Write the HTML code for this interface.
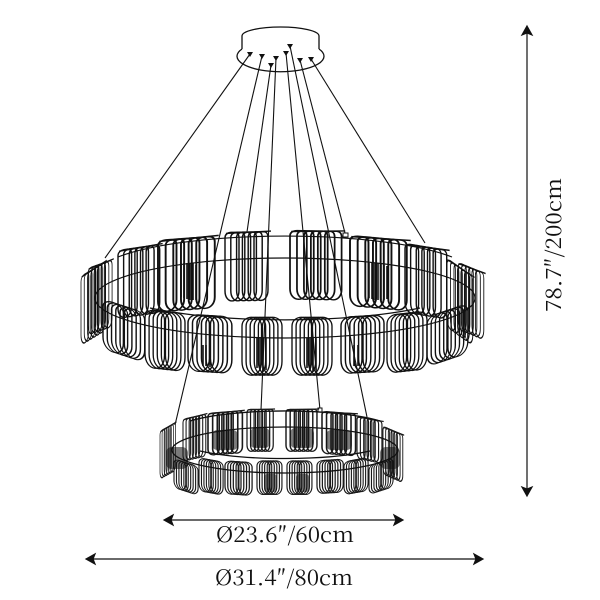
<!DOCTYPE html>
<html><head><meta charset="utf-8"><style>
html,body{margin:0;padding:0;background:#fff;width:600px;height:600px;overflow:hidden}
svg{display:block}
.w{stroke:#111;stroke-width:1.1;fill:none}
.l path{vector-effect:non-scaling-stroke}
text{font-family:"Noto Serif CJK SC","Liberation Serif",serif;font-size:21px;fill:#111}
</style></head><body>
<svg width="600" height="600" viewBox="0 0 600 600" xmlns="http://www.w3.org/2000/svg">
<defs>
<g id="u"><path d="M0,6Q0,1 6,0.5H10Q14,1 14,6V60C14,74 0,74 0,60Z"/></g>
<g id="b">
<use href="#u"/><use href="#u" x="5.8"/><use href="#u" x="11.6"/><use href="#u" x="17.4"/><use href="#u" x="23.2"/><use href="#u" x="29"/>
<path d="M1,1.5L46,0"/>
</g>
<g id="f">
<path d="M0,12C0,-2 21,-2 21,12V54C21,76 0,76 0,54Z"/>
<path d="M4.4,12C4.4,-2 25.4,-2 25.4,12V54C25.4,76 4.4,76 4.4,54Z"/>
<path d="M8.8,12C8.8,-2 29.8,-2 29.8,12V54C29.8,76 8.8,76 8.8,54Z"/>
<path d="M13.2,12C13.2,-2 34.2,-2 34.2,12V54C34.2,76 13.2,76 13.2,54Z"/>
<path d="M17.6,12C17.6,-2 38.6,-2 38.6,12V54C38.6,76 17.6,76 17.6,54Z"/>
<path d="M22,12C22,-2 43,-2 43,12V54C43,76 22,76 22,54Z"/>
</g>
</defs>

<!-- canopy -->
<path d="M242,36A38.5,9 0 0 1 319,36V49" fill="#fff" stroke="#111" stroke-width="1.3"/>
<path d="M242,36V49" stroke="#111" stroke-width="1.3"/>
<path d="M242,49A43.5,15.5 0 1 0 319,49" fill="none" stroke="#111" stroke-width="1.3"/>

<!-- wires -->
<g class="w">
<path d="M250,54L105,258"/><path d="M262,56L175,425"/><path d="M271,65L247,232"/><path d="M276,58L261,410"/>
<path d="M286,53L320,410"/><path d="M290,46L367,417"/><path d="M300,60L345,233"/><path d="M311,59L425,243"/>
</g>
<g fill="#111">
<path d="M247,52h6l-3,5z"/><path d="M259,54h6l-3,5z"/><path d="M273,56h6l-3,5z"/><path d="M268,63h6l-3,5z"/>
<path d="M283,51h6l-3,5z"/><path d="M287,44h6l-3,5z"/><path d="M297,58h6l-3,5z"/><path d="M308,57h6l-3,5z"/>
</g>
<rect x="343" y="233" width="5" height="4" fill="#fff" stroke="#111"/>
<rect x="318" y="408" width="4" height="4" fill="#fff" stroke="#111"/>

<!-- large ring back -->
<g class="l" fill="none" stroke="#111" stroke-width="1.45">
<use href="#b" transform="matrix(.56,-.34,0,.98,81,276)"/>
<use href="#b" transform="matrix(.56,-.2,0,.95,88,268)"/>
<use href="#b" transform="matrix(.97,-.14,0,.97,118,250)"/>
<use href="#b" transform="matrix(1.32,-.1,0,1.02,158,240)"/>
<use href="#b" transform="matrix(1,-.02,0,.98,225,232)"/>
<use href="#b" transform="matrix(1.2,.02,0,.98,290,230)"/>
<use href="#b" transform="matrix(1.32,.12,0,1,350,235)"/>
<use href="#b" transform="matrix(.97,.16,0,.98,405,243)"/>
<use href="#b" transform="matrix(.6,.42,0,.98,447,258)"/>
<use href="#b" transform="matrix(.6,.25,0,.95,458,262)"/>
<!-- large ring front -->
<use href="#f" transform="matrix(.97,.32,0,.72,103,298)"/>
<use href="#f" transform="matrix(.93,.1,0,.84,145,308)"/>
<use href="#f" transform="matrix(1.02,.06,0,.82,188,313)"/>
<use href="#f" transform="matrix(.93,0,0,.84,242,316)"/>
<use href="#f" transform="matrix(.93,0,0,.84,292,316)"/>
<use href="#f" transform="matrix(1,-.06,0,.82,341,316)"/>
<use href="#f" transform="matrix(.93,-.1,0,.84,387,314)"/>
<use href="#f" transform="matrix(.95,-.32,0,.72,427,316)"/>
</g>
<!-- dense shading strokes -->
<g stroke="#111" stroke-width="1.6" fill="none">
<path d="M181,263V297M184,263V298M187,263V299M190,263V300M193,263V300M196,265V300"/>
<path d="M369,263V298M372,263V299M375,263V300M378,263V300M381,264V300M384,265V300M387,266V299"/>
<path d="M257,338V368M260,338V371M263,338V372M266,338V370"/>
<path d="M307,338V368M310,338V371M313,338V372M316,338V370"/>
<path d="M203,345V366M206,345V366M210,345V367"/><path d="M354,345V366M358,345V366"/>
</g>
<!-- large rings -->
<g fill="none" stroke="#111" stroke-width="1.2">
<path d="M118,257A190,40 0 0 1 452,257"/>
<path d="M150,308A190,40 0 0 0 420,308"/>
<ellipse cx="285" cy="298" rx="190" ry="40"/>
</g>

<!-- small ring -->
<g class="l" fill="none" stroke="#1a1a1a" stroke-width="2">
<use href="#b" transform="matrix(.36,-.2,0,.68,160,431)"/>
<use href="#b" transform="matrix(.53,-.12,0,.6,183,419)"/>
<use href="#b" transform="matrix(.8,-.06,0,.6,208,413)"/>
<use href="#b" transform="matrix(.61,0,0,.6,247,409)"/>
<use href="#b" transform="matrix(.72,0,0,.6,286,409)"/>
<use href="#b" transform="matrix(.78,.06,0,.6,322,411)"/>
<use href="#b" transform="matrix(.58,.12,0,.6,357,416)"/>
<use href="#b" transform="matrix(.46,.2,0,.68,383,426)"/>
<use href="#f" transform="matrix(.56,.18,0,.42,174,458)"/>
<use href="#f" transform="matrix(.56,.1,0,.48,199,457)"/>
<use href="#f" transform="matrix(.63,.04,0,.48,225,460)"/>
<use href="#f" transform="matrix(.58,0,0,.49,257,460)"/>
<use href="#f" transform="matrix(.58,0,0,.49,287,460)"/>
<use href="#f" transform="matrix(.61,-.04,0,.48,317,460)"/>
<use href="#f" transform="matrix(.56,-.1,0,.48,344,461)"/>
<use href="#f" transform="matrix(.56,-.18,0,.42,369,465)"/>
</g>
<g fill="#111" opacity=".55">
<rect x="212" y="430" width="26" height="20" rx="5"/><rect x="250" y="428" width="20" height="20" rx="5"/>
<rect x="290" y="428" width="24" height="20" rx="5"/><rect x="326" y="430" width="26" height="20" rx="5"/>
<rect x="166" y="447" width="22" height="22" rx="6"/><rect x="380" y="447" width="20" height="22" rx="6"/>
<rect x="264" y="474" width="13" height="18" rx="3"/><rect x="296" y="474" width="13" height="18" rx="3"/>
</g>
<g fill="none" stroke="#111" stroke-width="1.3">
<path d="M190,421A113,22 0 0 1 380,421"/>
<path d="M200,451A113,22 0 0 0 370,451"/>
<ellipse cx="285" cy="450" rx="113" ry="23"/>
</g>

<!-- dimensions -->
<g stroke="#111" stroke-width="1.2" fill="#111">
<path d="M527,30V492" fill="none"/>
<path d="M527,26l5,9l-5,-2l-5,2z"/><path d="M527,496l5,-9l-5,2l-5,-2z"/>
<path d="M168,520H399" fill="none"/>
<path d="M164,520l9,-5l-2,5l2,5z"/><path d="M403,520l-9,-5l2,5l-2,5z"/>
<path d="M89,559H480" fill="none"/>
<path d="M86,559l9,-5l-2,5l2,5z"/><path d="M483,559l-9,-5l2,5l-2,5z"/>
</g>
<text x="216" y="542" textLength="138" lengthAdjust="spacingAndGlyphs">Ø23.6″/60cm</text>
<text x="215" y="585" textLength="138" lengthAdjust="spacingAndGlyphs">Ø31.4″/80cm</text>
<text transform="translate(561,312) rotate(-90)" textLength="134" lengthAdjust="spacingAndGlyphs">78.7″/200cm</text>
</svg>
</body></html>
